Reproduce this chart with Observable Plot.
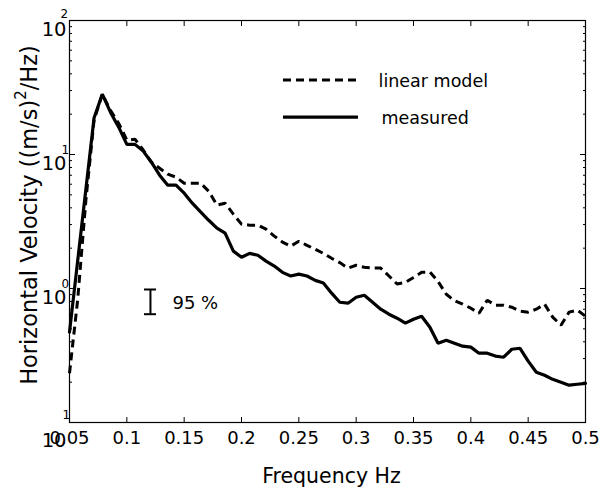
<!DOCTYPE html>
<html><head><meta charset="utf-8">
<script src="https://cdn.jsdelivr.net/npm/d3@7"></script>
<script src="https://cdn.jsdelivr.net/npm/@observablehq/plot@0.6"></script>
<style>body{margin:0;background:#fff} svg{display:block}</style>
</head><body><div id="chart"></div>
<script>
const freqs = [0.05,0.0571,0.0643,0.0714,0.0786,0.0857,0.0929,0.1,0.1071,0.1143,
  0.1214,0.1286,0.1357,0.1429,0.15,0.1571,0.1643,0.1714,0.1786,0.1857,
  0.1929,0.2,0.2071,0.2143,0.2214,0.2286,0.2357,0.2429,0.25,0.2571,
  0.2643,0.2714,0.2786,0.2857,0.2929,0.3,0.3071,0.3143,0.3214,0.3286,
  0.3357,0.3429,0.35,0.3571,0.3643,0.3714,0.3786,0.3857,0.3929,0.4,
  0.4071,0.4143,0.4214,0.4286,0.4357,0.4429,0.45,0.4571,0.4643,0.4714,
  0.4786,0.4857,0.4929,0.5];
const measured = [0.472,1.60,5.51,18.7,28.2,20.7,16.0,11.9,11.9,10.6,
  8.76,7.01,5.90,5.90,5.14,4.33,3.73,3.23,2.82,2.59,
  1.90,1.71,1.83,1.77,1.60,1.47,1.32,1.24,1.28,1.24,
  1.15,1.10,0.923,0.790,0.777,0.861,0.891,0.790,0.701,0.643,
  0.600,0.551,0.590,0.621,0.514,0.391,0.411,0.391,0.371,0.365,
  0.329,0.329,0.313,0.307,0.352,0.358,0.287,0.237,0.225,0.210,
  0.200,0.190,0.193,0.196];
const linearModel = [0.233,0.818,4.56,18.0,28.2,21.4,17.1,12.8,13.0,10.8,
  8.76,7.90,7.13,6.77,6.11,6.11,6.11,5.32,4.19,4.33,
  3.59,3.02,2.97,2.97,2.77,2.46,2.22,2.07,2.25,2.10,
  1.96,1.83,1.68,1.56,1.42,1.49,1.44,1.42,1.42,1.24,
  1.08,1.11,1.21,1.32,1.33,1.13,0.906,0.811,0.764,0.713,
  0.654,0.818,0.751,0.751,0.725,0.677,0.666,0.701,0.764,0.611,
  0.532,0.666,0.689,0.621];
const xTicks = [0.05,0.1,0.15,0.2,0.25,0.3,0.35,0.4,0.45,0.5];
const yTicks = [0.1,1,10,100];
const yTickBase = "10";
const yTickExps = ["1","0","1","2"];
const yMinorTicks = [0.2,0.3,0.4,0.5,0.6,0.7,0.8,0.9,2,3,4,5,6,7,8,9,20,30,40,50,60,70,80,90];
const legendLabels = ["linear model","measured"];
const legendY = [35.9,19.0];
const legendX1 = [0.2366,0.2366];
const legendX2 = [0.302,0.302];
const legendTextX = [0.3195,0.322];
const errF = [0.1206];
const errLo = [0.643];
const errHi = [0.983];
const errCapL = [0.1154];
const errCapR = [0.1259];
const errLabel = ["95 %"];
const errLabelX = [0.1398];
const errLabelY = [0.77];
const xLabel = ["Frequency Hz"];

const rows = freqs.map((f,i)=>({f, m: measured[i], l: linearModel[i]}));
const legendRows = legendLabels.map((t,i)=>({t, y: legendY[i], x1: legendX1[i], x2: legendX2[i], tx: legendTextX[i]}));

const chart = Plot.plot({
  width: 606, height: 488,
  marginLeft: 69, marginRight: 21, marginTop: 20, marginBottom: 66,
  x: {domain: [0.05, 0.5]},
  y: {type: "log", domain: [0.1, 100]},
  style: {fontFamily: "DejaVu Sans", fontSize: "17px", color: "black", background: "white", overflow: "visible"},
  marks: [
    Plot.frame({stroke: "black", strokeWidth: 1.2}),
    Plot.axisX(xTicks, {anchor: "bottom", tickSize: -5, tickFormat: () => "", label: null}),
    Plot.axisX(xTicks, {anchor: "top", tickSize: -5, tickFormat: () => "", label: null}),
    Plot.axisX(xTicks, {anchor: "bottom", tickSize: 0, tickPadding: 9, fontSize: 18, label: null, tickFormat: d => String(d)}),
    Plot.axisY(yTicks, {anchor: "left", tickSize: -6, tickFormat: () => "", label: null}),
    Plot.axisY(yTicks, {anchor: "right", tickSize: -6, tickFormat: () => "", label: null}),
    Plot.axisY(yMinorTicks, {anchor: "left", tickSize: -3, tickFormat: () => "", label: null}),
    Plot.axisY(yMinorTicks, {anchor: "right", tickSize: -3, tickFormat: () => "", label: null}),
    // y tick labels 10^n
    Plot.text(yTicks, {filter: d => d > 0.1, y: d => d, text: () => yTickBase, frameAnchor: "left", textAnchor: "end", dx: -3, dy: 9, fontSize: 19.5}),
    Plot.text(yTicks, {filter: d => d === 0.1, y: d => d, text: () => yTickBase, frameAnchor: "left", textAnchor: "end", dx: -3, dy: 18, fontSize: 19.5}),
    Plot.text(yTicks, {filter: d => d === 100, y: d => d, text: (d,i) => yTickExps[i], frameAnchor: "left", textAnchor: "start", dx: -9, dy: -6, fontSize: 12}),
    Plot.text(yTicks, {filter: d => d === 10 || d === 1, y: d => d, text: (d,i) => yTickExps[i], frameAnchor: "left", textAnchor: "start", dx: -8, dy: -4, fontSize: 12}),
    Plot.text(yTicks, {filter: d => d === 0.1, y: d => d, text: (d,i) => yTickExps[i], frameAnchor: "left", textAnchor: "start", dx: -7, dy: -7, fontSize: 12}),
    // data
    Plot.line(rows, {x: "f", y: "l", stroke: "black", strokeWidth: 3, strokeDasharray: "8,5", strokeLinecap: "butt", strokeLinejoin: "miter"}),
    Plot.line(rows, {x: "f", y: "m", stroke: "black", strokeWidth: 3.2, strokeLinejoin: "miter"}),
    // legend
    Plot.ruleY(legendRows.slice(0,1), {y: "y", x1: "x1", x2: "x2", stroke: "black", strokeWidth: 3, strokeDasharray: "8,5"}),
    Plot.ruleY(legendRows.slice(1), {y: "y", x1: "x1", x2: "x2", stroke: "black", strokeWidth: 3.2}),
    Plot.text(legendRows, {x: "tx", y: "y", text: "t", textAnchor: "start", lineAnchor: "middle", dy: 1, fontSize: 17.5}),
    // 95% bar
    Plot.ruleX(errF, {x: d => d, y1: (d,i) => errLo[i], y2: (d,i) => errHi[i], stroke: "black", strokeWidth: 2}),
    Plot.ruleY(errLo, {y: d => d, x1: (d,i) => errCapL[i], x2: (d,i) => errCapR[i], stroke: "black", strokeWidth: 2}),
    Plot.ruleY(errHi, {y: d => d, x1: (d,i) => errCapL[i], x2: (d,i) => errCapR[i], stroke: "black", strokeWidth: 2}),
    Plot.text(errLabel, {x: (d,i) => errLabelX[i], y: (d,i) => errLabelY[i], text: d => d, textAnchor: "start", lineAnchor: "middle", fontSize: 18}),
    // x label
    Plot.text(xLabel, {text: d => d, frameAnchor: "bottom", dx: 4, dy: 54, lineAnchor: "middle", fontSize: 20.5})
  ]
});
document.getElementById("chart").append(chart);

const svg = d3.select(chart.tagName.toLowerCase() === "svg" ? chart : chart.querySelector("svg"));
const yl = svg.append("text")
  .attr("transform", "translate(37,215) rotate(-90)")
  .attr("text-anchor", "middle")
  .attr("fill", "black")
  .style("font-family", "DejaVu Sans")
  .style("font-size", "22.5px");
yl.append("tspan").text("Horizontal Velocity ((m/s)");
yl.append("tspan").attr("dy", -11).style("font-size", "15px").text("2");
yl.append("tspan").attr("dy", 11).text("/Hz)");
</script>
</body></html>
